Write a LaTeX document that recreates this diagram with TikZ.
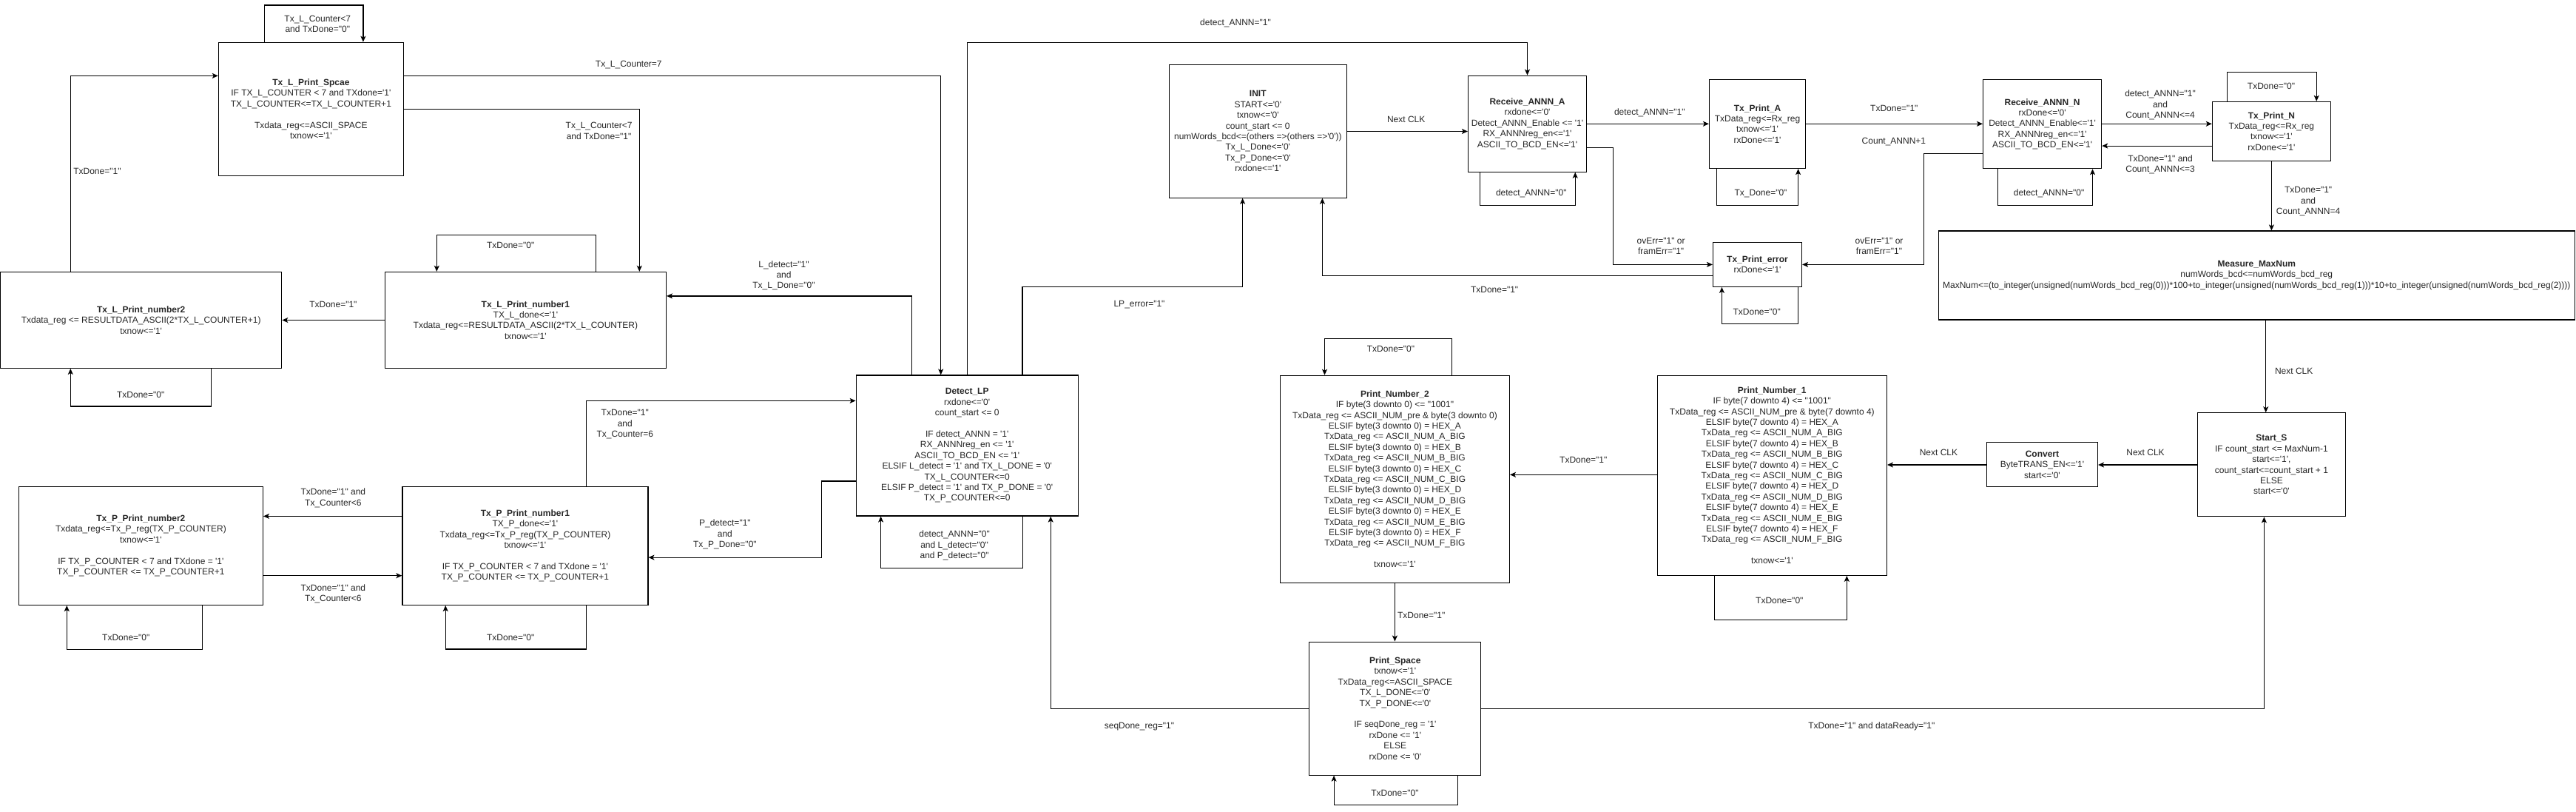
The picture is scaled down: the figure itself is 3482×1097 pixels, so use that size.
\documentclass[tikz,border=0pt]{standalone}
\usepackage{fontspec}
\newfontfamily\statefont{Liberation Sans}[Ligatures=TeXOff]
\newcommand\fsmfont{\statefont\fontsize{12}{14.4}\selectfont}
\usetikzlibrary{arrows.meta}

\begin{document}
\begin{tikzpicture}[x=1pt,y=-1pt,line width=1.2pt,line join=miter,
  fsm/.style={draw,align=center,inner sep=0pt,text=black!85,font=\fsmfont},
  cond/.style={align=center,inner sep=0pt,text=black!85,font=\fsmfont},
  arr/.style={-{Stealth[length=8pt,width=7pt,inset=2pt]}}]
\useasboundingbox (0,0) rectangle (3482,1097);

% states
\node[fsm,minimum width=250pt,minimum height=180pt] (lspace) at (420.4,147.3)
  {\textbf{Tx\_L\_Print\_Spcae}\\IF TX\_L\_COUNTER < 7 and TXdone='1'\\TX\_L\_COUNTER<=TX\_L\_COUNTER+1\\[14.4pt]
   Txdata\_reg<=ASCII\_SPACE\\txnow<='1'};
\node[fsm,minimum width=380pt,minimum height=130pt] (lnum2) at (190.7,432.4)
  {\textbf{Tx\_L\_Print\_number2}\\Txdata\_reg <= RESULTDATA\_ASCII(2*TX\_L\_COUNTER+1)\\txnow<='1'};
\node[fsm,minimum width=380pt,minimum height=130pt] (lnum1) at (710.4,432.4)
  {\textbf{Tx\_L\_Print\_number1}\\TX\_L\_done<='1'\\Txdata\_reg<=RESULTDATA\_ASCII(2*TX\_L\_COUNTER)\\txnow<='1'};
\node[fsm,minimum width=300pt,minimum height=190pt] (detectlp) at (1307.2,602)
  {\textbf{Detect\_LP}\\rxdone<='0'\\count\_start <= 0\\[14.4pt]
   IF detect\_ANNN = '1'\\RX\_ANNNreg\_en <= '1'\\ASCII\_TO\_BCD\_EN <= '1'\\
   ELSIF L\_detect = '1' and TX\_L\_DONE = '0'\\TX\_L\_COUNTER<=0\\
   ELSIF P\_detect = '1' and TX\_P\_DONE = '0'\\TX\_P\_COUNTER<=0};
\node[fsm,minimum width=240pt,minimum height=180pt] (init) at (1700.3,177.2)
  {\textbf{INIT}\\START<='0'\\txnow<='0'\\count\_start <= 0\\numWords\_bcd<=(others =>(others =>'0'))\\
   Tx\_L\_Done<='0'\\Tx\_P\_Done<='0'\\rxdone<='1'};
\node[fsm,minimum width=160pt,minimum height=130pt] (recva) at (2064.5,167.2)
  {\textbf{Receive\_ANNN\_A}\\rxdone<='0'\\Detect\_ANNN\_Enable <= '1'\\RX\_ANNNreg\_en<='1'\\ASCII\_TO\_BCD\_EN<='1'};
\node[fsm,minimum width=130pt,minimum height=120pt] (printa) at (2375.5,167.5)
  {\textbf{Tx\_Print\_A}\\TxData\_reg<=Rx\_reg\\txnow<='1'\\rxDone<='1'};
\node[fsm,minimum width=120pt,minimum height=60pt] (printerr) at (2375.5,357.3)
  {\textbf{Tx\_Print\_error}\\rxDone<='1'};
\node[fsm,minimum width=160pt,minimum height=120pt] (recvn) at (2760.6,167.7)
  {\textbf{Receive\_ANNN\_N}\\rxDone<='0'\\Detect\_ANNN\_Enable<='1'\\RX\_ANNNreg\_en<='1'\\ASCII\_TO\_BCD\_EN<='1'};
\node[fsm,minimum width=160pt,minimum height=80pt] (printn) at (3070.4,177.4)
  {\textbf{Tx\_Print\_N}\\TxData\_reg<=Rx\_reg\\txnow<='1'\\rxDone<='1'};
\node[fsm,minimum width=860pt,minimum height=120pt] (measure) at (3050.3,372)
  {\textbf{Measure\_MaxNum}\\numWords\_bcd<=numWords\_bcd\_reg\\
   MaxNum<=(to\_integer(unsigned(numWords\_bcd\_reg(0)))*100+to\_integer(unsigned(numWords\_bcd\_reg(1)))*10+to\_integer(unsigned(numWords\_bcd\_reg(2))))};
\node[fsm,minimum width=200pt,minimum height=140pt] (starts) at (3070.4,627.8)
  {\textbf{Start\_S}\\IF count\_start <= MaxNum-1\\start<='1',\\count\_start<=count\_start + 1\\ELSE\\start<='0'};
\node[fsm,minimum width=150pt,minimum height=60pt] (convert) at (2760.4,627.8)
  {\textbf{Convert}\\ByteTRANS\_EN<='1'\\start<='0'};
\node[fsm,minimum width=310pt,minimum height=270pt] (numone) at (2395.3,642.3)
  {\textbf{Print\_Number\_1}\\IF byte(7 downto 4) <= "1001"\\TxData\_reg <= ASCII\_NUM\_pre \& byte(7 downto 4)\\
   ELSIF byte(7 downto 4) = HEX\_A\\TxData\_reg <= ASCII\_NUM\_A\_BIG\\
   ELSIF byte(7 downto 4) = HEX\_B\\TxData\_reg <= ASCII\_NUM\_B\_BIG\\
   ELSIF byte(7 downto 4) = HEX\_C\\TxData\_reg <= ASCII\_NUM\_C\_BIG\\
   ELSIF byte(7 downto 4) = HEX\_D\\TxData\_reg <= ASCII\_NUM\_D\_BIG\\
   ELSIF byte(7 downto 4) = HEX\_E\\TxData\_reg <= ASCII\_NUM\_E\_BIG\\
   ELSIF byte(7 downto 4) = HEX\_F\\TxData\_reg <= ASCII\_NUM\_F\_BIG\\[14.4pt]
   txnow<='1'};
\node[fsm,minimum width=310pt,minimum height=280pt] (numtwo) at (1885.4,647.3)
  {\textbf{Print\_Number\_2}\\IF byte(3 downto 0) <= "1001"\\TxData\_reg <= ASCII\_NUM\_pre \& byte(3 downto 0)\\
   ELSIF byte(3 downto 0) = HEX\_A\\TxData\_reg <= ASCII\_NUM\_A\_BIG\\
   ELSIF byte(3 downto 0) = HEX\_B\\TxData\_reg <= ASCII\_NUM\_B\_BIG\\
   ELSIF byte(3 downto 0) = HEX\_C\\TxData\_reg <= ASCII\_NUM\_C\_BIG\\
   ELSIF byte(3 downto 0) = HEX\_D\\TxData\_reg <= ASCII\_NUM\_D\_BIG\\
   ELSIF byte(3 downto 0) = HEX\_E\\TxData\_reg <= ASCII\_NUM\_E\_BIG\\
   ELSIF byte(3 downto 0) = HEX\_F\\TxData\_reg <= ASCII\_NUM\_F\_BIG\\[14.4pt]
   txnow<='1'};
\node[fsm,minimum width=232pt,minimum height=180pt] (pspace) at (1885.8,957.1)
  {\textbf{Print\_Space}\\txnow<='1'\\TxData\_reg<=ASCII\_SPACE\\TX\_L\_DONE<='0'\\TX\_P\_DONE<='0'\\[14.4pt]
   IF seqDone\_reg = '1'\\rxDone <= '1'\\ELSE\\rxDone <= '0'};
\node[fsm,minimum width=332pt,minimum height=160pt] (pnum1) at (709.9,737.4)
  {\textbf{Tx\_P\_Print\_number1}\\TX\_P\_done<='1'\\Txdata\_reg<=Tx\_P\_reg(TX\_P\_COUNTER)\\txnow<='1'\\[14.4pt]
   IF TX\_P\_COUNTER < 7 and TXdone = '1'\\TX\_P\_COUNTER <= TX\_P\_COUNTER+1};
\node[fsm,minimum width=330pt,minimum height=160pt] (pnum2) at (190.4,737.4)
  {\textbf{Tx\_P\_Print\_number2}\\Txdata\_reg<=Tx\_P\_reg(TX\_P\_COUNTER)\\txnow<='1'\\[14.4pt]
   IF TX\_P\_COUNTER < 7 and TXdone = '1'\\TX\_P\_COUNTER <= TX\_P\_COUNTER+1};

% L branch
\draw[arr] (lspace.north -| 357.8,0) |- (490.9,7) -- (lspace.north -| 490.9,0);
\draw[arr] (lnum2.north -| 95.3,0) |- (lspace.west |- 0,102.4);
\draw[arr] (lspace.east |- 0,102.4) -| (detectlp.north -| 1271.7,0);
\draw[arr] (lspace.east |- 0,147.3) -| (lnum1.north -| 864.3,0);
\draw[arr] (lnum1.north -| 805.8,0) |- (590.3,317.4) -- (lnum1.north -| 590.3,0);
\draw[arr] (lnum1.west |- 0,432.5) -- (lnum2.east |- 0,432.5);
\draw[arr] (lnum2.south -| 285.1,0) |- (95.3,549) -- (lnum2.south -| 95.3,0);
\draw[arr] (detectlp.north -| 1232.7,0) |- (lnum1.east |- 0,399.9);
\node[cond] (c1) at (429.3,32.2) {Tx\_L\_Counter<7\\and TxDone="0"};
\node[cond,anchor=west] (c2) at (98.7,231.5) {TxDone="1"};
\node[cond] (c3) at (849.8,87.7) {Tx\_L\_Counter=7};
\node[cond] (c4) at (809.6,176.8) {Tx\_L\_Counter<7\\and TxDone="1"};
\node[cond] (c5) at (690.2,331.5) {TxDone="0"};
\node[cond] (c6) at (450.4,411.5) {TxDone="1"};
\node[cond] (c7) at (190.2,533) {TxDone="0"};
\node[cond] (c8) at (1059.5,372.3) {L\_detect="1"\\and\\Tx\_L\_Done="0"};

% P branch
\draw[arr] (pnum1.north -| 792.8,0) |- (detectlp.west |- 0,541.4);
\draw[arr] (detectlp.west |- 0,650) -| (1110.4,753.1) -- (pnum1.east |- 0,753.1);
\draw[arr] (pnum1.south -| 792.8,0) |- (602.2,877) -- (pnum1.south -| 602.2,0);
\draw[arr] (pnum1.west |- 0,697.4) -- (pnum2.east |- 0,697.4);
\draw[arr] (pnum2.east |- 0,777.7) -- (pnum1.west |- 0,777.7);
\draw[arr] (pnum2.south -| 273.2,0) |- (90.3,877.1) -- (pnum2.south -| 90.3,0);
\draw[arr] (detectlp.south -| 1382.3,0) |- (1190.6,767.2) -- (detectlp.south -| 1190.6,0);
\node[cond] (c9) at (844.8,573.3) {TxDone="1"\\and\\Tx\_Counter=6};
\node[cond] (c10) at (979.9,722) {P\_detect="1"\\and\\Tx\_P\_Done="0"};
\node[cond] (c11) at (690.2,861.7) {TxDone="0"};
\node[cond] (c12) at (450.4,673) {TxDone="1" and\\Tx\_Counter<6};
\node[cond] (c13) at (450.4,802.1) {TxDone="1" and\\Tx\_Counter<6};
\node[cond] (c14) at (170.3,861.2) {TxDone="0"};
\node[cond] (c15) at (1290.1,737) {detect\_ANNN="0"\\and L\_detect="0"\\and P\_detect="0"};

% ANNN branch
\draw[arr] (detectlp.north) |- (recva.north |- 0,57.2) -- (recva.north);
\draw[arr] (detectlp.north -| 1381.9,0) |- (1679.6,387.2) -- (init.south -| 1679.6,0);
\draw[arr] (init.east |- 0,177.5) -- (recva.west |- 0,177.5);
\draw[arr] (recva.south -| 2000.2,0) |- (2129.2,277.5) -- (recva.south -| 2129.2,0);
\draw[arr] (recva.east |- 0,167.3) -- (printa.west |- 0,167.3);
\draw[arr] (recva.east |- 0,199.6) -| (2180.4,357.4) -- (printerr.west |- 0,357.4);
\draw[arr] (printerr.west |- 0,372.5) -| (init.south -| 1787.4,0);
\draw[arr] (printerr.south -| 2430.6,0) |- (2327.4,437.4) -- (printerr.south -| 2327.4,0);
\draw[arr] (printa.south -| 2320.5,0) |- (2430.6,277.5) -- (printa.south -| 2430.6,0);
\draw[arr] (printa.east |- 0,167.3) -- (recvn.west |- 0,167.3);
\draw[arr] (recvn.west |- 0,207.3) -| (2600.5,357.4) -- (printerr.east |- 0,357.4);
\draw[arr] (recvn.south -| 2700.7,0) |- (2828.5,277.5) -- (recvn.south -| 2828.5,0);
\draw[arr] (recvn.east |- 0,167.3) -- (printn.west |- 0,167.3);
\draw[arr] (printn.west |- 0,197.1) -- (recvn.east |- 0,197.1);
\draw[arr] (printn.north -| 3010.2,0) |- (3131.2,97.5) -- (printn.north -| 3131.2,0);
\draw[arr] (printn.south) -- (printn.south |- measure.north);
\node[cond] (c16) at (1670,31.6) {detect\_ANNN="1"};
\node[cond] (c17) at (1540,411.1) {LP\_error="1"};
\node[cond] (c18) at (1900.7,161.7) {Next CLK};
\node[cond] (c19) at (2069.8,261.3) {detect\_ANNN="0"};
\node[cond] (c20) at (2229.8,151.9) {detect\_ANNN="1"};
\node[cond] (c21) at (2245.1,332.2) {ovErr="1" or\\framErr="1"};
\node[cond] (c22) at (2020.1,391.8) {TxDone="1"};
\node[cond] (c23) at (2374.7,421.6) {TxDone="0"};
\node[cond] (c24) at (2380,261.3) {Tx\_Done="0"};
\node[cond] (c25) at (2560.3,146.6) {TxDone="1"};
\node[cond] (c26) at (2559.9,191.9) {Count\_ANNN+1};
\node[cond] (c27) at (2540,332.2) {ovErr="1" or\\framErr="1"};
\node[cond] (c28) at (2769.6,261.3) {detect\_ANNN="0"};
\node[cond] (c29) at (2920,141.9) {detect\_ANNN="1"\\and\\Count\_ANNN<=4};
\node[cond] (c30) at (2920,222.2) {TxDone="1" and\\Count\_ANNN<=3};
\node[cond] (c31) at (3070,116.5) {TxDone="0"};
\node[cond] (c32) at (3120.1,272.2) {TxDone="1"\\and\\Count\_ANNN=4};

% printing
\draw[arr] (measure.south -| 3062.7,0) -- (starts.north -| 3062.7,0);
\draw[arr] (starts.west |- 0,628) -- (convert.east |- 0,628);
\draw[arr] (convert.west |- 0,628) -- (numone.east |- 0,628);
\draw[arr] (numone.south -| 2317.6,0) |- (2496.3,837.3) -- (numone.south -| 2496.3,0);
\draw[arr] (numone.west |- 0,641.3) -- (numtwo.east |- 0,641.3);
\draw[arr] (numtwo.north -| 1962.7,0) |- (1790.5,457.4) -- (numtwo.north -| 1790.5,0);
\draw[arr] (numtwo.south) -- (numtwo.south |- pspace.north);
\draw[arr] (pspace.south -| 1970.4,0) |- (1803.1,1087.2) -- (pspace.south -| 1803.1,0);
\draw[arr] (pspace.west |- 0,957.3) -| (detectlp.south -| 1420.2,0);
\draw[arr] (pspace.east |- 0,957.3) -| (starts.south -| 3060.4,0);
\node[cond,anchor=west] (c33) at (3074.4,501.6) {Next CLK};
\node[cond] (c34) at (2900,611.8) {Next CLK};
\node[cond] (c35) at (2620.4,611.8) {Next CLK};
\node[cond] (c36) at (2405.3,811.7) {TxDone="0"};
\node[cond] (c37) at (2140.3,621.7) {TxDone="1"};
\node[cond] (c38) at (1880,471.8) {TxDone="0"};
\node[cond,anchor=west] (c39) at (1888.5,831.4) {TxDone="1"};
\node[cond] (c40) at (1885.4,1071.4) {TxDone="0"};
\node[cond] (c41) at (1540,981.7) {seqDone\_reg="1"};
\node[cond] (c42) at (2529.8,981.7) {TxDone="1" and dataReady="1"};
\end{tikzpicture}
\end{document}
